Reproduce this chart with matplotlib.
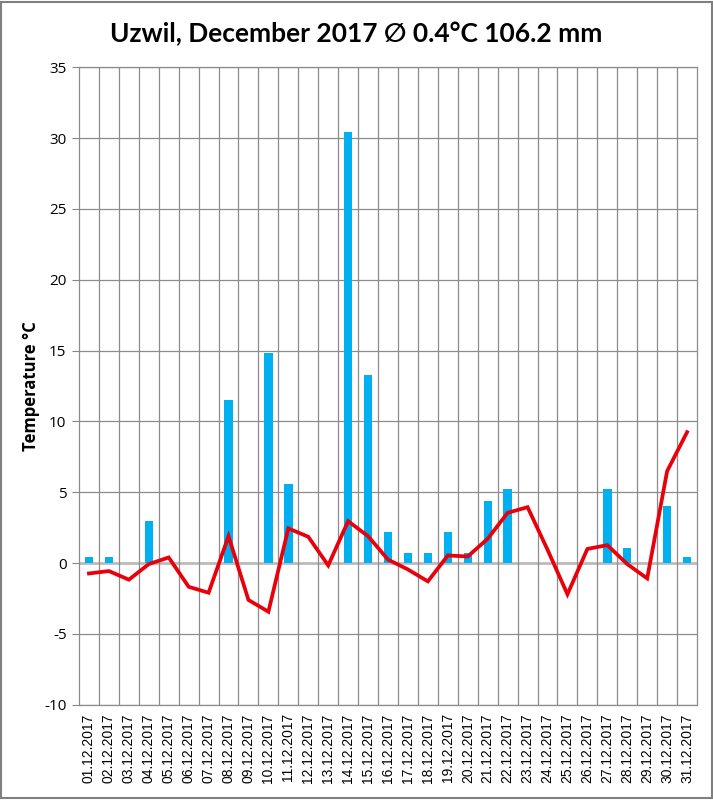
import matplotlib
matplotlib.use("Agg")
import matplotlib.pyplot as plt
import numpy as np

days = [f"{d:02d}.12.2017" for d in range(1, 32)]
precip = [0.4, 0.4, 0.0, 3.0, 0.0, 0.0, 0.0, 11.5, 0.0, 14.8,
          5.6, 0.0, 0.0, 30.4, 13.3, 2.2, 0.7, 0.7, 2.2, 0.7,
          4.4, 5.2, 0.0, 0.0, 0.0, 0.0, 5.2, 1.1, 0.0, 4.0, 0.4]
temp = [-0.73, -0.56, -1.17, -0.07, 0.40, -1.67, -2.09, 1.90, -2.6, -3.43,
        2.45, 1.86, -0.16, 2.96, 1.90, 0.25, -0.45, -1.29, 0.54, 0.47,
        1.72, 3.55, 3.95, 0.95, -2.2, 1.0, 1.27, -0.07, -1.08, 6.49, 9.24]
yticks = [-10, -5, 0, 5, 10, 15, 20, 25, 30, 35]
title = "Uzwil, December 2017 \u2205 0.4°C 106.2 mm"

fig = plt.figure(figsize=(7.13, 8.0), dpi=100)
ax = fig.add_axes([0.1108, 0.119, 0.8668, 0.797])
x = np.arange(len(days))
ax.bar(x, precip, width=0.42, color="#00B0F0", zorder=2)
ax.plot(x, temp, color="#E8000B", lw=2.7, zorder=3, solid_joinstyle="miter")

ax.set_xlim(-0.5, len(days) - 0.5)
ax.set_ylim(-10, 35)
ax.set_yticks(yticks)
ax.set_yticklabels([str(v) for v in yticks], fontfamily="Open Sans", fontsize=11)
ax.set_xticks(x)
ax.set_xticklabels(days, rotation=90, fontfamily="Liberation Sans", fontsize=10)
ax.tick_params(axis="x", length=0, pad=6)
ax.tick_params(axis="y", length=5, color="#888888", pad=4)

for v in yticks:
    ax.axhline(v, color="#BBBBBB" if v == 0 else "#8C8C8C",
               lw=2.0 if v == 0 else 0.9, zorder=1)
for b in np.arange(0.5, len(days) - 0.5, 1.0):
    ax.axvline(b, color="#8C8C8C", lw=0.9, zorder=1)
for s in ax.spines.values():
    s.set_color("#8C8C8C")
    s.set_linewidth(0.9)

ax.set_ylabel("Temperature °C", fontfamily="Open Sans", fontweight="bold",
              fontsize=12, labelpad=3)
fig.text(0.5, 0.958, title, ha="center", va="center",
         fontfamily=["Lato", "DejaVu Sans"], fontweight="bold", fontsize=19)

fig.patches.append(plt.Rectangle((0.002, 0.002), 0.996, 0.996, transform=fig.transFigure,
                                 fill=False, edgecolor="#7F7F7F", lw=1.5))
fig.savefig("out.png", dpi=100)
